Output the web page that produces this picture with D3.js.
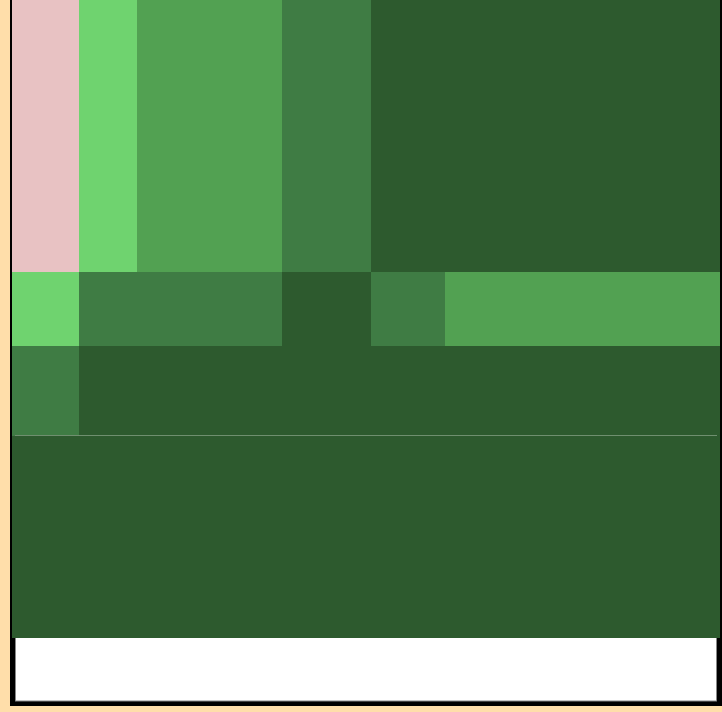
<!DOCTYPE html>
<html><head><meta charset="utf-8">
<script src="https://cdn.jsdelivr.net/npm/d3@7"></script>
<style>html,body{margin:0;padding:0;background:#ffdeaa;}svg{display:block;}</style>
</head><body>
<script>
// column / row break values (data units)
const xEdges = [0, 10, 18.7, 40.3, 53.6, 64.6, 105.7];
const yEdges = [0, 30.2, 43.6, 54.6, 100];
// level per cell, rows listed from bottom (row 0) to top; -1 = missing
const row0 = [4, 4, 4, 4, 4, 4];
const row1 = [3, 4, 4, 4, 4, 4];
const row2 = [1, 3, 3, 4, 3, 2];
const row3 = [-1, 1, 2, 3, 4, 4];
const levels = [-1, 1, 2, 3, 4];
const levelColors = ["#e8c2c3", "#6fd36f", "#52a152", "#3f7c44", "#2d5a2e"];

const W = 722, H = 712;
const svg = d3.select("body").append("svg").attr("width", W).attr("height", H);
svg.append("rect").attr("width", W).attr("height", H).attr("fill", "#ffdeaa");

const x = d3.scaleLinear().domain([0, 105.7]).range([12, 720]);
const y = d3.scaleLinear().domain([0, 95.2]).range([638, 0]);
const color = d3.scaleOrdinal().domain(levels).range(levelColors);

// frame
svg.append("rect").attr("x", 10).attr("y", -20).attr("width", 722).attr("height", 726).attr("fill", "#000");
svg.append("rect").attr("x", 15.5).attr("y", 435.5).attr("width", 701).attr("height", 265.5)
  .attr("fill", "#fff").attr("stroke", "#888").attr("stroke-width", 1);

const rows = [row0, row1, row2, row3];
const cells = [];
rows.forEach((r, i) => r.forEach((v, j) => cells.push({i, j, v})));

svg.append("g").selectAll("rect").data(cells).join("rect")
  .attr("x", d => x(xEdges[d.j]))
  .attr("width", d => x(xEdges[d.j + 1]) - x(xEdges[d.j]))
  .attr("y", d => y(yEdges[d.i + 1]))
  .attr("height", d => y(yEdges[d.i]) - y(yEdges[d.i + 1]))
  .attr("fill", d => color(d.v))
  .attr("shape-rendering", "crispEdges");

svg.append("line").attr("x1", 15).attr("x2", 717).attr("y1", 435.5).attr("y2", 435.5)
  .attr("stroke", "#6f8f6f").attr("stroke-width", 1);
</script>
</body></html>
